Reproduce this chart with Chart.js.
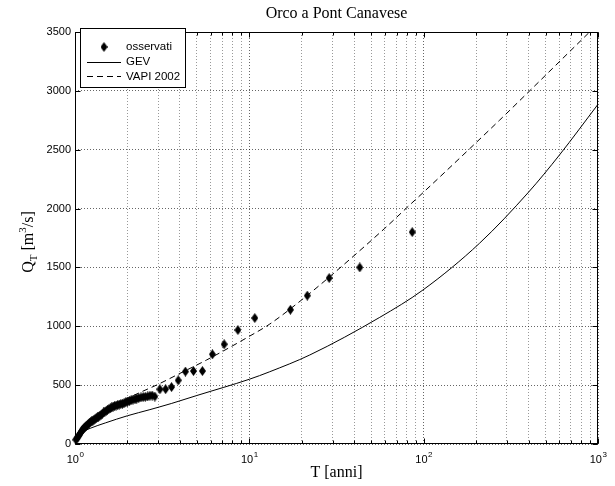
<!DOCTYPE html>
<html>
<head>
<meta charset="utf-8">
<script src="https://cdn.jsdelivr.net/npm/chart.js@4.4.1/dist/chart.umd.min.js"></script>
<style>
  html, body { margin: 0; padding: 0; background: #fff; }
  #wrap { width: 615px; height: 486px; }
</style>
</head>
<body>
<div id="wrap"><canvas id="chart" width="615" height="486"></canvas></div>
<script>
// Data

var chartTitle = 'Orco a Pont Canavese';
var seriesNames = ['osservati', 'GEV', 'VAPI 2002'];

// observed maxima: return period T [anni], discharge Q [m3/s]
var obsT = [86, 43, 28.7, 21.5, 17.2, 10.75, 8.6, 7.17, 6.14, 5.38, 4.78, 4.3, 3.91, 3.58, 3.31, 3.07, 2.87,
    2.77, 2.69, 2.61, 2.53, 2.46, 2.39, 2.32, 2.26, 2.21, 2.15, 2.10, 2.05, 2.00, 1.955, 1.911, 1.870,
    1.830, 1.792, 1.755, 1.720, 1.686, 1.654, 1.623, 1.593, 1.564, 1.536, 1.509, 1.483, 1.458, 1.433,
    1.410, 1.387, 1.365, 1.344, 1.323, 1.303, 1.284, 1.265, 1.246, 1.229, 1.211, 1.194, 1.178, 1.162,
    1.147, 1.132, 1.117, 1.103, 1.089, 1.075, 1.062, 1.049, 1.036, 1.024, 1.012];
var obsQ = [1800, 1500, 1410, 1260, 1140, 1070, 968, 847, 762, 620, 620, 615, 541, 484, 466, 465, 403,
    412, 410, 404, 401, 399, 396, 390, 386, 380, 377, 373, 364, 360, 355, 346, 342,
    340, 335, 331, 327, 323, 318, 311, 303, 297, 290, 281, 275, 268, 256,
    247, 240, 233, 227, 220, 212, 206, 199, 193, 186, 180, 171, 163, 156,
    148, 140, 130, 121, 110, 93, 80, 70, 57, 46, 36];

// GEV curve
var gevT = [1.05, 1.22, 1.5, 2, 2.69, 3.07, 3.59, 5, 10, 13.1, 22.2, 56, 99, 209, 400, 601, 1000];
var gevQ = [88, 133, 180, 240, 292, 316, 345, 412, 550, 614, 756, 1076, 1308, 1705, 2140, 2455, 2886];

// VAPI 2002 curve
var vapiT = [1.1, 1.5, 2, 2.41, 2.94, 4, 5.69, 10, 13.1, 20, 28.9, 59.8, 83.1, 100, 273, 401, 1000];
var vapiQ = [150, 298, 388, 444, 501, 600, 714, 915, 1019, 1225, 1421, 1832, 2030, 2140, 2752, 2993, 3570];

// axes
var xDecades = [1, 10, 100, 1000];
var xExponents = ['0', '1', '2', '3'];
var xMinor = [2, 3, 4, 5, 6, 7, 8, 9, 20, 30, 40, 50, 60, 70, 80, 90, 200, 300, 400, 500, 600, 700, 800, 900];
var yTicks = [0, 500, 1000, 1500, 2000, 2500, 3000, 3500];


// Helpers

function pairs(xs, ys) {
    return xs.map(function (v, i) { return {x: v, y: ys[i]}; });
}

var diamond = document.createElement('canvas');
diamond.width = 7;
diamond.height = 10;
(function () {
    var d = diamond.getContext('2d');
    d.fillStyle = '#000';
    d.beginPath();
    d.moveTo(3.5, 0);
    d.lineTo(7, 5);
    d.lineTo(3.5, 10);
    d.lineTo(0, 5);
    d.closePath();
    d.fill();
})();

var sans = 'Liberation Sans, Arial, Helvetica, sans-serif';
var serif = 'Liberation Serif, Times New Roman, serif';

// title, labels, inward ticks, box and legend drawn MATLAB-style
var decorations = {
    id: 'decorations',
    afterDraw: function (chart) {
        var ctx = chart.ctx;
        var a = chart.chartArea;
        var xs = chart.scales.x;
        var ys = chart.scales.y;
        var L = Math.round(a.left) + 0.5, R = Math.round(a.right) - 0.5;
        var T = Math.round(a.top) + 0.5, B = Math.round(a.bottom) - 0.5;

        ctx.save();
        ctx.strokeStyle = '#000';
        ctx.lineWidth = 1;
        ctx.setLineDash([]);

        // box
        ctx.strokeRect(L, T, R - L, B - T);

        // y ticks (left and right, inward)
        ctx.beginPath();
        yTicks.forEach(function (v) {
            var py = Math.round(ys.getPixelForValue(v)) + 0.5;
            ctx.moveTo(L, py); ctx.lineTo(L + 5, py);
            ctx.moveTo(R, py); ctx.lineTo(R - 5, py);
        });
        // x ticks (bottom and top, inward)
        xDecades.concat(xMinor).forEach(function (v) {
            var len = xDecades.indexOf(v) >= 0 ? 5 : 3;
            var px = Math.round(xs.getPixelForValue(v)) + 0.5;
            ctx.moveTo(px, B); ctx.lineTo(px, B - len);
            ctx.moveTo(px, T); ctx.lineTo(px, T + len);
        });
        ctx.stroke();

        // x tick labels 10^n
        ctx.fillStyle = '#000';
        ctx.textBaseline = 'alphabetic';
        ctx.textAlign = 'left';
        xDecades.forEach(function (v, i) {
            var px = xs.getPixelForValue(v);
            ctx.font = '11px ' + sans;
            var w1 = ctx.measureText('10').width;
            ctx.font = '8px ' + sans;
            var w2 = ctx.measureText(xExponents[i]).width;
            var x0 = px - (w1 + w2) / 2;
            ctx.font = '11px ' + sans;
            ctx.fillText('10', x0, 463);
            ctx.font = '8px ' + sans;
            ctx.fillText(xExponents[i], x0 + w1 + 0.5, 457);
        });

        // title and x axis title
        ctx.textAlign = 'center';
        ctx.font = '16px ' + serif;
        var cx = (a.left + a.right) / 2;
        ctx.fillText(chartTitle, cx, 18);
        ctx.fillText('T [anni]', cx, 477);

        // y axis title: Q_T [m^3/s]
        ctx.save();
        ctx.translate(33, (a.top + a.bottom) / 2 + 4);
        ctx.rotate(-Math.PI / 2);
        ctx.textAlign = 'left';
        var parts = [
            {t: 'Q', f: 16, dy: 0},
            {t: 'T', f: 11, dy: 4},
            {t: ' [m', f: 16, dy: 0},
            {t: '3', f: 11, dy: -7},
            {t: '/s]', f: 16, dy: 0}
        ];
        var total = 0;
        parts.forEach(function (p) { ctx.font = p.f + 'px ' + serif; p.w = ctx.measureText(p.t).width; total += p.w; });
        var xx = -total / 2;
        parts.forEach(function (p) {
            ctx.font = p.f + 'px ' + serif;
            ctx.fillText(p.t, xx, p.dy);
            xx += p.w;
        });
        ctx.restore();

        // legend
        var bx = 80.5, by = 28.5, bw = 105, bh = 59;
        ctx.fillStyle = '#fff';
        ctx.fillRect(bx, by, bw, bh);
        ctx.strokeRect(bx, by, bw, bh);
        var rows = [46.5, 61.5, 76];
        ctx.font = '11.5px ' + sans;
        ctx.textAlign = 'left';
        ctx.textBaseline = 'middle';
        ctx.fillStyle = '#000';
        chart.data.datasets.forEach(function (ds, i) {
            var ry = rows[i];
            if (ds.showLine) {
                ctx.save();
                ctx.lineWidth = ds.borderWidth;
                ctx.setLineDash(ds.borderDash || []);
                ctx.beginPath();
                ctx.moveTo(87, Math.round(ry) + 0.5);
                ctx.lineTo(121, Math.round(ry) + 0.5);
                ctx.stroke();
                ctx.restore();
            } else {
                ctx.drawImage(diamond, 104 - 3.5, Math.round(ry) - 5);
            }
            ctx.fillText(ds.label, 126, ry + 0.5);
        });

        ctx.restore();
    }
};


// Chart

var gridColor = function (c) {
    return c.tick && c.tick.major ? 'rgba(0,0,0,0.6)' : 'rgba(0,0,0,0.4)';
};

var chart = new Chart(document.getElementById('chart'), {
    type: 'scatter',
    data: {
        datasets: [{
            label: seriesNames[0],
            data: pairs(obsT, obsQ),
            showLine: false,
            pointStyle: diamond,
            pointRadius: 4,
            clip: 6
        }, {
            label: seriesNames[1],
            data: pairs(gevT, gevQ),
            showLine: true,
            borderColor: '#000',
            borderWidth: 1,
            pointRadius: 0,
            cubicInterpolationMode: 'monotone',
            clip: 0
        }, {
            label: seriesNames[2],
            data: pairs(vapiT, vapiQ),
            showLine: true,
            borderColor: '#000',
            borderWidth: 1,
            borderDash: [6, 4],
            pointRadius: 0,
            cubicInterpolationMode: 'monotone',
            clip: 0
        }]
    },
    options: {
        responsive: false,
        animation: false,
        devicePixelRatio: 1,
        layout: {padding: {top: 32, right: 17, left: 0, bottom: 0}},
        plugins: {
            legend: {display: false},
            title: {display: false},
            tooltip: {enabled: false}
        },
        scales: {
            x: {
                type: 'logarithmic',
                min: 1,
                max: 1000,
                afterBuildTicks: function (s) {
                    s.ticks = xDecades.concat(xMinor).sort(function (p, q) { return p - q; })
                        .map(function (v) { return {value: v, major: xDecades.indexOf(v) >= 0}; });
                },
                afterFit: function (s) { s.height = 42; },
                ticks: {display: false},
                grid: {color: gridColor, lineWidth: 1, drawTicks: false},
                border: {display: false, dash: [1, 2]}
            },
            y: {
                type: 'linear',
                min: 0,
                max: 3500,
                afterBuildTicks: function (s) {
                    s.ticks = yTicks.map(function (v) { return {value: v, major: true}; });
                },
                afterFit: function (s) { s.width = 75; },
                ticks: {
                    color: '#000',
                    padding: 4,
                    font: {family: sans, size: 11},
                    callback: function (v) { return String(v); }
                },
                grid: {color: gridColor, lineWidth: 1, drawTicks: false},
                border: {display: false, dash: [1, 2]}
            }
        }
    },
    plugins: [decorations]
});
</script>
</body>
</html>
